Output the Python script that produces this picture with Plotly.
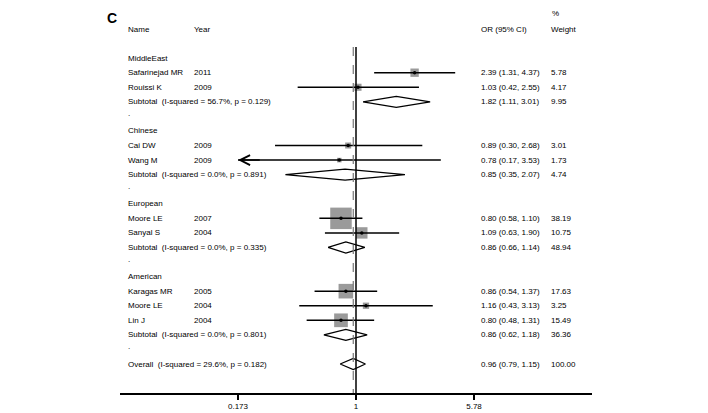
import math
import plotly.graph_objects as go

# ---------------- data ----------------
group_names = ["MiddleEast", "Chinese", "European", "American"]
study_group = ["MiddleEast", "MiddleEast", "Chinese", "Chinese", "European", "European",
               "American", "American", "American"]
study_names = ["Safarinejad MR", "Rouissi K", "Cai DW", "Wang M", "Moore LE", "Sanyal S",
               "Karagas MR", "Moore LE", "Lin J"]
study_years = [2011, 2009, 2009, 2009, 2007, 2004, 2005, 2004, 2004]
study_or = [2.39, 1.03, 0.89, 0.78, 0.80, 1.09, 0.86, 1.16, 0.80]
study_lo = [1.31, 0.42, 0.30, 0.17, 0.58, 0.63, 0.54, 0.43, 0.48]
study_hi = [4.37, 2.55, 2.68, 3.53, 1.10, 1.90, 1.37, 3.13, 1.31]
study_w = [5.78, 4.17, 3.01, 1.73, 38.19, 10.75, 17.63, 3.25, 15.49]

sub_i2 = ["56.7%", "0.0%", "0.0%", "0.0%"]
sub_p = ["0.129", "0.891", "0.335", "0.801"]
sub_or = [1.82, 0.85, 0.86, 0.86]
sub_lo = [1.11, 0.35, 0.66, 0.62]
sub_hi = [3.01, 2.07, 1.14, 1.18]
sub_w = [9.95, 4.74, 48.94, 36.36]

overall_i2 = "29.6%"
overall_p = "0.182"
overall_or = 0.96
overall_lo = 0.79
overall_hi = 1.15
overall_w = 100.00

tick_vals = [0.173, 1, 5.78]
tick_text = ["0.173", "1", "5.78"]

# ---------------- layout helpers ----------------
OFF = 8                     # page body margin
FW, FH = 700, 405           # figure size so it fits the 708x413 window
FONT = "Liberation Sans, Arial"
FS = 8


def px(x):                  # reference-pixel x -> paper x
    return (x - OFF) / FW


ROW0_Y, ROW_H = 29.0, 14.565  # reference pixel y of row 0, row pitch


def row_of(y):              # reference-pixel y -> row coordinate
    return (y - ROW0_Y) / ROW_H


X_NAME, X_YEAR, X_OR, X_W = px(126), px(192), px(479), px(549)

fig = go.Figure()
ann = []


def txt(x, row, s, size=FS, **kw):
    ann.append(dict(x=x, y=row, xref="paper", yref="y", text=s, showarrow=False,
                    xanchor="left", yanchor="middle",
                    font=dict(family=FONT, size=size, color="black"), **kw))


def fmt_ci(o, l, h):
    return f"{o:.2f} ({l:.2f}, {h:.2f})"


clip_lo, clip_hi = tick_vals[0], tick_vals[-1]
max_w = max(study_w)
max_side = 21.5

# headers
txt(X_NAME, 0, "Name")
txt(X_YEAR, 0, "Year")
txt(X_OR, 0, "OR (95% CI)")
txt(X_W, 0, "Weight")
txt(px(550), row_of(13), "%")
ann.append(dict(x=px(105), y=1, xref="paper", yref="paper", text="<b>C</b>",
                showarrow=False, xanchor="left", yanchor="top",
                font=dict(family="Liberation Sans, Arial", size=14, color="black")))

row = 2
for gi, g in enumerate(group_names):
    txt(X_NAME, row, g)
    row += 1
    for i in range(len(study_names)):
        if study_group[i] != g:
            continue
        txt(X_NAME, row, study_names[i])
        txt(X_YEAR, row, str(study_years[i]))
        txt(X_OR, row, fmt_ci(study_or[i], study_lo[i], study_hi[i]))
        txt(X_W, row, f"{study_w[i]:.2f}")
        lo = max(study_lo[i], clip_lo)
        hi = min(study_hi[i], clip_hi)
        side = max_side * math.sqrt(study_w[i] / max_w)
        fig.add_trace(go.Scatter(x=[study_or[i]], y=[row], mode="markers",
                                 marker=dict(symbol="square", size=side, color="#9a9a9a",
                                             line=dict(width=0)),
                                 showlegend=False, hoverinfo="skip"))
        fig.add_trace(go.Scatter(x=[lo, hi], y=[row, row], mode="lines",
                                 line=dict(color="black", width=1.5),
                                 showlegend=False, hoverinfo="skip"))
        fig.add_trace(go.Scatter(x=[study_or[i]], y=[row], mode="markers",
                                 marker=dict(symbol="circle", size=3.5, color="black"),
                                 showlegend=False, hoverinfo="skip"))
        if study_lo[i] < clip_lo:
            ann.append(dict(x=math.log10(clip_lo), y=row, xref="x", yref="y",
                            ax=math.log10(clip_lo) + 0.15, ay=row, axref="x", ayref="y",
                            text="", showarrow=True, arrowhead=5, arrowsize=1.3,
                            arrowwidth=1.5, arrowcolor="black", standoff=0))
        row += 1
    txt(X_NAME, row, f"Subtotal  (I-squared = {sub_i2[gi]}, p = {sub_p[gi]})")
    txt(X_OR, row, fmt_ci(sub_or[gi], sub_lo[gi], sub_hi[gi]))
    txt(X_W, row, f"{sub_w[gi]:.2f}")
    fig.add_trace(go.Scatter(x=[sub_lo[gi], sub_or[gi], sub_hi[gi], sub_or[gi], sub_lo[gi]],
                             y=[row, row - 0.38, row, row + 0.38, row], mode="lines",
                             line=dict(color="black", width=1.3),
                             showlegend=False, hoverinfo="skip"))
    row += 1
    txt(X_NAME, row - 0.2, ".")
    row += 1

txt(X_NAME, row, f"Overall  (I-squared = {overall_i2}, p = {overall_p})")
txt(X_OR, row, fmt_ci(overall_or, overall_lo, overall_hi))
txt(X_W, row, f"{overall_w:.2f}")
fig.add_trace(go.Scatter(x=[overall_lo, overall_or, overall_hi, overall_or, overall_lo],
                         y=[row, row - 0.38, row, row + 0.38, row], mode="lines",
                         line=dict(color="black", width=1.3),
                         showlegend=False, hoverinfo="skip"))
axis_row = row_of(393)
top_row = row_of(OFF)

# reference lines
fig.add_shape(type="line", x0=1, x1=1, y0=row_of(47), y1=axis_row, xref="x", yref="y",
              line=dict(color="black", width=1.5))
fig.add_shape(type="line", x0=overall_or, x1=overall_or, y0=row_of(47), y1=axis_row,
              xref="x", yref="y", line=dict(color="#777777", width=1.2, dash="dash"))

span = math.log10(clip_hi / clip_lo)  # axis extends half a tick-span beyond the end ticks
x_rng = [math.log10(clip_lo) - span / 2, math.log10(clip_hi) + span / 2]

fig.update_layout(
    width=FW, height=FH,
    margin=dict(l=0, r=0, t=0, b=0),
    paper_bgcolor="white", plot_bgcolor="white",
    annotations=ann,
    xaxis=dict(type="log", domain=[px(120), px(592)], range=x_rng,
               tickvals=tick_vals, ticktext=tick_text, ticks="outside", ticklen=5,
               tickwidth=1.5, tickcolor="black", showline=True, linecolor="black",
               linewidth=1.5, showgrid=False, zeroline=False,
               tickfont=dict(family=FONT, size=FS, color="black")),
    yaxis=dict(domain=[(FH - (393 - OFF)) / FH, 1], range=[axis_row, top_row],
               visible=False, showgrid=False, zeroline=False),
)

fig.write_html("out.html")
